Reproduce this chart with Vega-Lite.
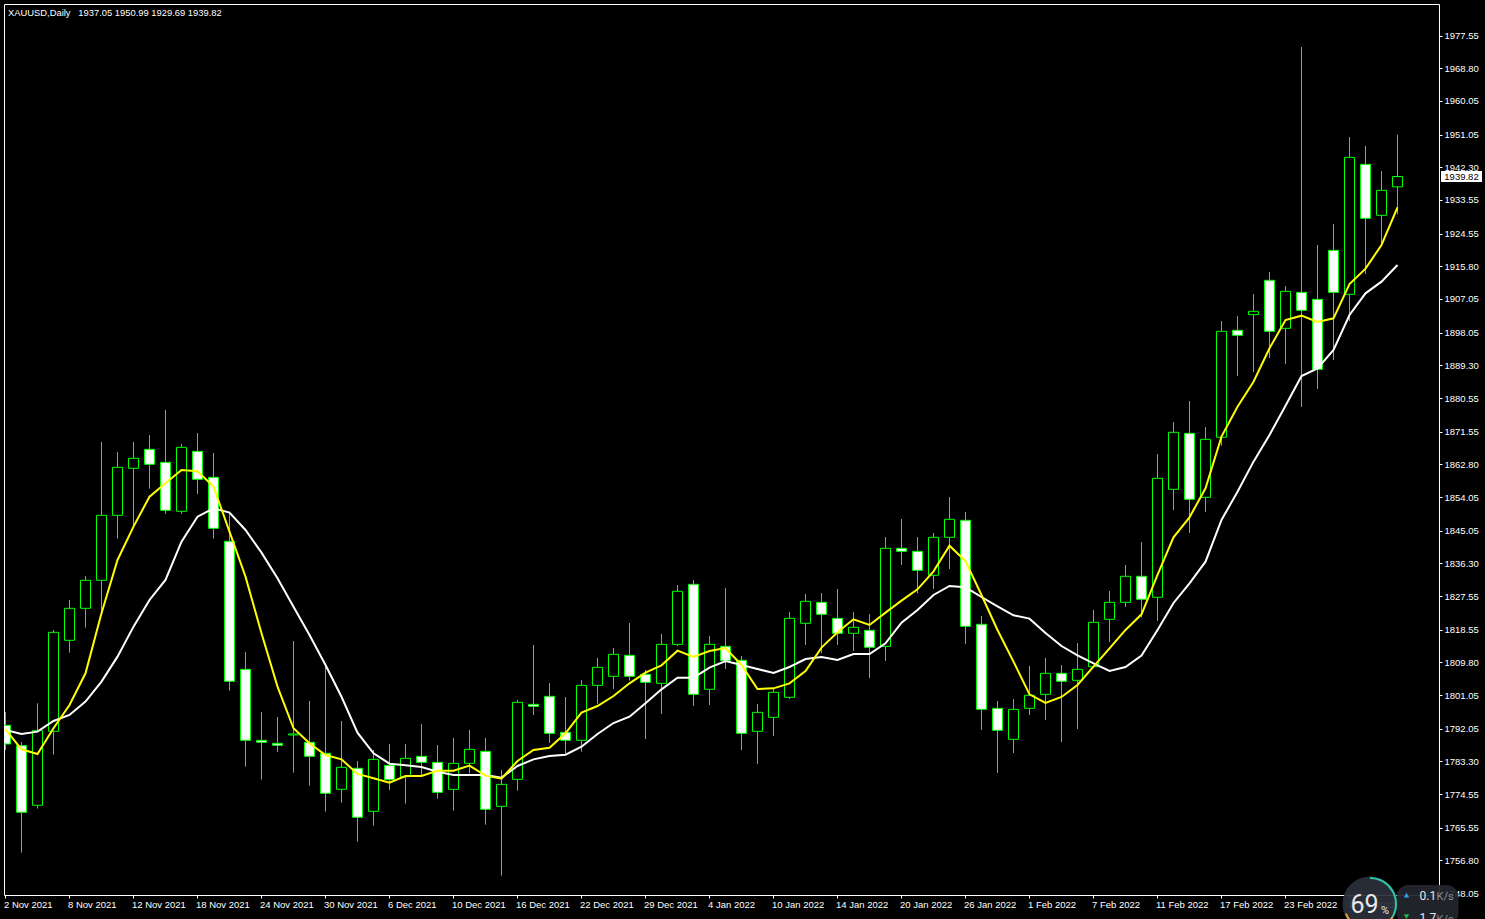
{
"$schema":"https://vega.github.io/schema/vega-lite/v6.json",
"autosize":{"type":"none"},
"padding":{"left":4,"top":4,"right":46,"bottom":24},
"width":1435,"height":891,
"background":"#000000",
"view":{"stroke":"#ffffff","strokeWidth":1,"fill":"#000000"},
"title":{"text":"XAUUSD,Daily\u00a0\u00a0\u00a01937.05 1950.99 1929.69 1939.82","anchor":"start","frame":"group","orient":"top","baseline":"middle","offset":-18.5,"dx":4,"font":"Liberation Sans","fontSize":9.4,"fontWeight":"normal","color":"#ffffff"},
"data":{"values":[
{"date":"2 Nov 2021","open":1792.97,"high":1796.54,"low":1786.37,"close":1787.97,"ma_fast":1791.90,"ma_slow":1791.72},
{"date":"3 Nov 2021","open":1787.53,"high":1788.51,"low":1758.90,"close":1769.69,"ma_fast":1786.55,"ma_slow":1790.65},
{"date":"4 Nov 2021","open":1771.56,"high":1798.85,"low":1770.67,"close":1791.54,"ma_fast":1785.30,"ma_slow":1791.27},
{"date":"5 Nov 2021","open":1791.36,"high":1818.48,"low":1785.12,"close":1817.85,"ma_fast":1792.17,"ma_slow":1794.13},
{"date":"8 Nov 2021","open":1815.71,"high":1826.50,"low":1812.41,"close":1824.27,"ma_fast":1798.41,"ma_slow":1795.73},
{"date":"9 Nov 2021","open":1824.27,"high":1832.93,"low":1819.10,"close":1831.77,"ma_fast":1806.88,"ma_slow":1799.30},
{"date":"10 Nov 2021","open":1831.77,"high":1868.78,"low":1822.94,"close":1849.16,"ma_fast":1822.94,"ma_slow":1804.65},
{"date":"11 Nov 2021","open":1849.16,"high":1866.11,"low":1842.92,"close":1862.00,"ma_fast":1837.21,"ma_slow":1811.34},
{"date":"12 Nov 2021","open":1861.74,"high":1868.78,"low":1846.13,"close":1864.41,"ma_fast":1846.13,"ma_slow":1819.37},
{"date":"15 Nov 2021","open":1866.82,"high":1870.65,"low":1856.29,"close":1862.81,"ma_fast":1854.15,"ma_slow":1826.50},
{"date":"16 Nov 2021","open":1863.34,"high":1877.34,"low":1849.52,"close":1850.50,"ma_fast":1857.72,"ma_slow":1831.86},
{"date":"17 Nov 2021","open":1850.23,"high":1868.25,"low":1849.52,"close":1867.35,"ma_fast":1861.29,"ma_slow":1842.11},
{"date":"18 Nov 2021","open":1866.28,"high":1871.19,"low":1854.87,"close":1858.79,"ma_fast":1860.93,"ma_slow":1848.80},
{"date":"19 Nov 2021","open":1859.33,"high":1865.84,"low":1842.92,"close":1845.68,"ma_fast":1856.83,"ma_slow":1851.03},
{"date":"22 Nov 2021","open":1842.20,"high":1849.69,"low":1802.24,"close":1804.74,"ma_fast":1844.79,"ma_slow":1849.87},
{"date":"23 Nov 2021","open":1807.95,"high":1812.59,"low":1781.91,"close":1788.95,"ma_fast":1832.75,"ma_slow":1845.23},
{"date":"24 Nov 2021","open":1788.95,"high":1796.54,"low":1778.43,"close":1788.42,"ma_fast":1817.58,"ma_slow":1839.17},
{"date":"25 Nov 2021","open":1788.15,"high":1795.20,"low":1785.83,"close":1787.62,"ma_fast":1803.31,"ma_slow":1832.30},
{"date":"26 Nov 2021","open":1790.38,"high":1815.53,"low":1780.30,"close":1790.65,"ma_fast":1792.17,"ma_slow":1824.72},
{"date":"29 Nov 2021","open":1788.42,"high":1799.48,"low":1776.82,"close":1784.67,"ma_fast":1788.15,"ma_slow":1817.14},
{"date":"30 Nov 2021","open":1785.48,"high":1808.67,"low":1769.87,"close":1774.77,"ma_fast":1785.03,"ma_slow":1809.11},
{"date":"1 Dec 2021","open":1775.84,"high":1794.13,"low":1772.27,"close":1781.73,"ma_fast":1783.87,"ma_slow":1800.60},
{"date":"2 Dec 2021","open":1781.46,"high":1783.42,"low":1761.84,"close":1768.35,"ma_fast":1779.95,"ma_slow":1791.00},
{"date":"3 Dec 2021","open":1769.95,"high":1786.36,"low":1766.11,"close":1783.86,"ma_fast":1778.78,"ma_slow":1785.47},
{"date":"6 Dec 2021","open":1782.26,"high":1787.97,"low":1775.66,"close":1778.42,"ma_fast":1777.62,"ma_slow":1782.70},
{"date":"7 Dec 2021","open":1779.22,"high":1787.97,"low":1772.00,"close":1784.13,"ma_fast":1779.40,"ma_slow":1782.26},
{"date":"8 Dec 2021","open":1784.67,"high":1793.32,"low":1779.22,"close":1783.06,"ma_fast":1779.40,"ma_slow":1781.81},
{"date":"9 Dec 2021","open":1783.06,"high":1787.70,"low":1773.34,"close":1775.03,"ma_fast":1780.83,"ma_slow":1780.56},
{"date":"10 Dec 2021","open":1775.83,"high":1789.57,"low":1770.13,"close":1782.79,"ma_fast":1780.83,"ma_slow":1779.67},
{"date":"13 Dec 2021","open":1782.79,"high":1791.71,"low":1780.12,"close":1786.54,"ma_fast":1782.17,"ma_slow":1779.67},
{"date":"14 Dec 2021","open":1786.00,"high":1789.57,"low":1766.38,"close":1770.48,"ma_fast":1779.49,"ma_slow":1779.67},
{"date":"15 Dec 2021","open":1771.29,"high":1781.01,"low":1752.73,"close":1777.17,"ma_fast":1778.69,"ma_slow":1778.96},
{"date":"16 Dec 2021","open":1778.51,"high":1799.74,"low":1775.48,"close":1799.11,"ma_fast":1783.42,"ma_slow":1782.08},
{"date":"17 Dec 2021","open":1798.58,"high":1814.46,"low":1795.72,"close":1798.04,"ma_fast":1786.36,"ma_slow":1783.86},
{"date":"20 Dec 2021","open":1800.72,"high":1804.29,"low":1788.23,"close":1790.82,"ma_fast":1786.98,"ma_slow":1784.75},
{"date":"21 Dec 2021","open":1791.09,"high":1800.54,"low":1785.47,"close":1788.95,"ma_fast":1790.82,"ma_slow":1785.11},
{"date":"22 Dec 2021","open":1788.95,"high":1805.09,"low":1785.91,"close":1803.66,"ma_fast":1796.35,"ma_slow":1787.25},
{"date":"23 Dec 2021","open":1803.66,"high":1810.98,"low":1798.67,"close":1808.48,"ma_fast":1798.13,"ma_slow":1790.64},
{"date":"24 Dec 2021","open":1806.07,"high":1813.65,"low":1802.68,"close":1811.96,"ma_fast":1800.81,"ma_slow":1793.58},
{"date":"28 Dec 2021","open":1811.69,"high":1820.34,"low":1804.91,"close":1806.07,"ma_fast":1804.20,"ma_slow":1795.28},
{"date":"29 Dec 2021","open":1806.61,"high":1807.77,"low":1789.30,"close":1804.47,"ma_fast":1807.05,"ma_slow":1798.85},
{"date":"30 Dec 2021","open":1804.20,"high":1817.40,"low":1795.99,"close":1814.63,"ma_fast":1809.01,"ma_slow":1802.59},
{"date":"31 Dec 2021","open":1814.63,"high":1830.51,"low":1814.19,"close":1828.82,"ma_fast":1812.94,"ma_slow":1805.71},
{"date":"3 Jan 2022","open":1830.69,"high":1831.85,"low":1798.13,"close":1801.25,"ma_fast":1811.24,"ma_slow":1805.71},
{"date":"4 Jan 2022","open":1802.60,"high":1816.87,"low":1798.40,"close":1814.64,"ma_fast":1812.85,"ma_slow":1808.39},
{"date":"5 Jan 2022","open":1814.10,"high":1829.71,"low":1808.04,"close":1810.27,"ma_fast":1813.66,"ma_slow":1810.18},
{"date":"6 Jan 2022","open":1810.36,"high":1811.52,"low":1786.36,"close":1790.82,"ma_fast":1809.11,"ma_slow":1809.11},
{"date":"7 Jan 2022","open":1791.36,"high":1798.67,"low":1782.62,"close":1796.44,"ma_fast":1802.69,"ma_slow":1808.04},
{"date":"10 Jan 2022","open":1795.10,"high":1802.86,"low":1790.11,"close":1801.79,"ma_fast":1802.86,"ma_slow":1806.97},
{"date":"11 Jan 2022","open":1800.46,"high":1823.29,"low":1800.01,"close":1821.59,"ma_fast":1804.20,"ma_slow":1808.57},
{"date":"12 Jan 2022","open":1820.26,"high":1828.11,"low":1814.46,"close":1826.14,"ma_fast":1807.50,"ma_slow":1810.71},
{"date":"13 Jan 2022","open":1825.88,"high":1828.37,"low":1812.23,"close":1822.66,"ma_fast":1813.75,"ma_slow":1811.25},
{"date":"14 Jan 2022","open":1821.59,"high":1829.44,"low":1814.46,"close":1817.58,"ma_fast":1817.85,"ma_slow":1810.45},
{"date":"17 Jan 2022","open":1817.58,"high":1823.29,"low":1812.85,"close":1819.19,"ma_fast":1821.33,"ma_slow":1812.05},
{"date":"18 Jan 2022","open":1818.38,"high":1822.75,"low":1805.63,"close":1813.84,"ma_fast":1819.81,"ma_slow":1812.05},
{"date":"19 Jan 2022","open":1814.10,"high":1843.36,"low":1810.18,"close":1840.33,"ma_fast":1823.11,"ma_slow":1814.91},
{"date":"20 Jan 2022","open":1840.33,"high":1848.17,"low":1835.87,"close":1839.52,"ma_fast":1826.32,"ma_slow":1820.44},
{"date":"21 Jan 2022","open":1839.52,"high":1843.36,"low":1828.28,"close":1834.44,"ma_fast":1829.35,"ma_slow":1823.82},
{"date":"24 Jan 2022","open":1833.10,"high":1844.43,"low":1829.44,"close":1843.27,"ma_fast":1834.17,"ma_slow":1827.84},
{"date":"25 Jan 2022","open":1843.27,"high":1854.06,"low":1834.80,"close":1848.09,"ma_fast":1841.04,"ma_slow":1830.25},
{"date":"26 Jan 2022","open":1847.82,"high":1850.05,"low":1814.73,"close":1819.45,"ma_fast":1836.94,"ma_slow":1829.89},
{"date":"27 Jan 2022","open":1819.99,"high":1822.22,"low":1791.72,"close":1797.24,"ma_fast":1827.84,"ma_slow":1827.30},
{"date":"28 Jan 2022","open":1797.51,"high":1799.47,"low":1780.21,"close":1791.63,"ma_fast":1818.47,"ma_slow":1824.81},
{"date":"31 Jan 2022","open":1789.22,"high":1800.01,"low":1785.56,"close":1797.24,"ma_fast":1810.00,"ma_slow":1822.40},
{"date":"1 Feb 2022","open":1797.51,"high":1808.84,"low":1795.73,"close":1800.99,"ma_fast":1801.26,"ma_slow":1821.51},
{"date":"2 Feb 2022","open":1801.26,"high":1810.98,"low":1794.39,"close":1806.88,"ma_fast":1798.94,"ma_slow":1817.67},
{"date":"3 Feb 2022","open":1806.88,"high":1809.11,"low":1788.50,"close":1804.74,"ma_fast":1800.55,"ma_slow":1814.19},
{"date":"4 Feb 2022","open":1805.00,"high":1814.99,"low":1791.98,"close":1807.95,"ma_fast":1803.76,"ma_slow":1811.69},
{"date":"7 Feb 2022","open":1808.66,"high":1823.83,"low":1808.48,"close":1820.53,"ma_fast":1808.66,"ma_slow":1809.56},
{"date":"8 Feb 2022","open":1821.33,"high":1828.91,"low":1815.26,"close":1825.88,"ma_fast":1813.57,"ma_slow":1807.50},
{"date":"9 Feb 2022","open":1825.88,"high":1835.87,"low":1824.63,"close":1832.84,"ma_fast":1818.48,"ma_slow":1808.58},
{"date":"10 Feb 2022","open":1832.84,"high":1842.02,"low":1821.86,"close":1826.68,"ma_fast":1822.67,"ma_slow":1811.61},
{"date":"11 Feb 2022","open":1827.22,"high":1865.57,"low":1820.88,"close":1859.06,"ma_fast":1833.19,"ma_slow":1818.48},
{"date":"14 Feb 2022","open":1856.11,"high":1874.13,"low":1850.58,"close":1871.37,"ma_fast":1843.27,"ma_slow":1825.70},
{"date":"15 Feb 2022","open":1871.10,"high":1879.75,"low":1844.43,"close":1853.44,"ma_fast":1848.62,"ma_slow":1830.96},
{"date":"16 Feb 2022","open":1853.97,"high":1872.79,"low":1850.05,"close":1869.49,"ma_fast":1856.38,"ma_slow":1836.76},
{"date":"17 Feb 2022","open":1870.04,"high":1901.16,"low":1867.79,"close":1898.40,"ma_fast":1870.21,"ma_slow":1847.91},
{"date":"18 Feb 2022","open":1898.67,"high":1902.49,"low":1886.44,"close":1897.33,"ma_fast":1878.23,"ma_slow":1855.49},
{"date":"21 Feb 2022","open":1902.85,"high":1908.38,"low":1887.51,"close":1903.74,"ma_fast":1884.92,"ma_slow":1863.52},
{"date":"22 Feb 2022","open":1912.04,"high":1914.27,"low":1891.25,"close":1898.39,"ma_fast":1893.84,"ma_slow":1870.65},
{"date":"23 Feb 2022","open":1899.19,"high":1910.52,"low":1889.65,"close":1909.09,"ma_fast":1901.42,"ma_slow":1878.50},
{"date":"24 Feb 2022","open":1908.82,"high":1974.47,"low":1878.14,"close":1904.01,"ma_fast":1902.58,"ma_slow":1886.44},
{"date":"25 Feb 2022","open":1906.95,"high":1921.49,"low":1882.96,"close":1888.22,"ma_fast":1900.89,"ma_slow":1888.49},
{"date":"28 Feb 2022","open":1920.06,"high":1927.11,"low":1890.72,"close":1908.82,"ma_fast":1901.87,"ma_slow":1893.39},
{"date":"1 Mar 2022","open":1908.29,"high":1950.39,"low":1901.15,"close":1944.95,"ma_fast":1911.05,"ma_slow":1902.76},
{"date":"2 Mar 2022","open":1943.07,"high":1947.98,"low":1913.73,"close":1928.63,"ma_fast":1915.16,"ma_slow":1908.56},
{"date":"3 Mar 2022","open":1929.43,"high":1941.29,"low":1921.94,"close":1936.12,"ma_fast":1921.49,"ma_slow":1911.68},
{"date":"4 Mar 2022","open":1937.05,"high":1950.99,"low":1929.69,"close":1939.82,"ma_fast":1931.57,"ma_slow":1916.14}
]},
"encoding":{
"x":{"field":"date","type":"ordinal","sort":null,"title":null,
"scale":{"type":"band","range":[-6.5,1401.5],"paddingInner":0,"paddingOuter":0},
"axis":{"orient":"bottom","title":null,"domain":false,"grid":false,"ticks":true,"tickSize":3,"tickColor":"#ffffff","labelColor":"#ffffff","labelAngle":0,"labelAlign":"left","labelBaseline":"middle","labelFont":"Liberation Sans","labelFontSize":9.5,"labelPadding":6,"labelOffset":-1.5,"labelOverlap":false,"labelBound":false,"labelFlush":false,
"values":["2 Nov 2021","8 Nov 2021","12 Nov 2021","18 Nov 2021","24 Nov 2021","30 Nov 2021","6 Dec 2021","10 Dec 2021","16 Dec 2021","22 Dec 2021","29 Dec 2021","4 Jan 2022","10 Jan 2022","14 Jan 2022","20 Jan 2022","26 Jan 2022","1 Feb 2022","7 Feb 2022","11 Feb 2022","17 Feb 2022","23 Feb 2022","1 Mar 2022"]}}
},
"layer":[
{"mark":{"type":"rule","color":"#00ff00","strokeWidth":1,"clip":true},
 "encoding":{"y":{"field":"low","type":"quantitative","title":null,
   "scale":{"domain":[1747.56,1985.98],"nice":false,"zero":false},
   "axis":{"orient":"right","title":null,"domain":false,"grid":false,"tickSize":3,"tickCount":40,"tickColor":"#ffffff","labelColor":"#ffffff","labelFont":"Liberation Sans","labelFontSize":9.5,"labelPadding":2,"labelOverlap":false,"labelBound":false,"labelFlush":false,"format":".2f",
   "values":[1977.55,1968.80,1960.05,1951.05,1942.30,1933.55,1924.55,1915.80,1907.05,1898.05,1889.30,1880.55,1871.55,1862.80,1854.05,1845.05,1836.30,1827.55,1818.55,1809.80,1801.05,1792.05,1783.30,1774.55,1765.55,1756.80,1748.05]}},
  "y2":{"field":"high"}}},
{"mark":{"type":"bar","width":10,"stroke":"#00ff00","strokeWidth":1,"clip":true},
 "encoding":{"y":{"field":"open","type":"quantitative"},"y2":{"field":"close"},
  "fill":{"condition":{"test":"datum.close >= datum.open","value":"#000000"},"value":"#ffffff"}}},
{"mark":{"type":"line","color":"#ffffff","strokeWidth":2,"clip":true,"interpolate":"linear"},
 "encoding":{"y":{"field":"ma_slow","type":"quantitative"}}},
{"mark":{"type":"line","color":"#ffff00","strokeWidth":2,"clip":true,"interpolate":"linear"},
 "encoding":{"y":{"field":"ma_fast","type":"quantitative"}}},
{"transform":[{"filter":"datum.date === '4 Mar 2022'"}],
 "mark":{"type":"rect","width":41,"xOffset":64,"color":"#ffffff"},
 "encoding":{"y":{"datum":1941.3,"type":"quantitative"},"y2":{"datum":1938.35}}},
{"transform":[{"filter":"datum.date === '4 Mar 2022'"}],
 "mark":{"type":"text","xOffset":64,"color":"#000000","font":"Liberation Sans","fontSize":9.5,"align":"center","baseline":"middle"},
 "encoding":{"y":{"field":"close","type":"quantitative"},"text":{"field":"close","type":"quantitative","format":".2f"}}},
{"transform":[{"filter":"datum.date === '4 Mar 2022'"}],
 "mark":{"type":"rect","width":62,"xOffset":30,"color":"#23262e","opacity":0.93,"cornerRadius":12},
 "encoding":{"y":{"datum":1750.24,"type":"quantitative"},"y2":{"datum":1739.54}}},
{"transform":[{"filter":"datum.date === '1 Mar 2022'"}],
 "mark":{"type":"point","shape":"circle","filled":true,"size":3025,"xOffset":20.5,"color":"#2b2f3a","opacity":0.93},
 "encoding":{"y":{"datum":1745.16,"type":"quantitative"}}},
{"transform":[{"filter":"datum.date === '1 Mar 2022'"}],
 "mark":{"type":"arc","radius":27,"radius2":25,"theta":0,"theta2":2.1,"xOffset":20.5,"color":"#2ec4a6"},
 "encoding":{"y":{"datum":1745.16,"type":"quantitative"}}},
{"transform":[{"filter":"datum.date === '1 Mar 2022'"}],
 "mark":{"type":"arc","radius":27,"radius2":25,"theta":2.1,"theta2":4.33,"xOffset":20.5,"color":"#e8a33d"},
 "encoding":{"y":{"datum":1745.16,"type":"quantitative"}}},
{"transform":[{"filter":"datum.date === '1 Mar 2022'"}],
 "mark":{"type":"text","text":"69","xOffset":15,"color":"#e8e8e8","font":"Roboto","fontSize":25,"align":"center","baseline":"middle"},
 "encoding":{"y":{"datum":1744.9,"type":"quantitative"}}},
{"transform":[{"filter":"datum.date === '1 Mar 2022'"}],
 "mark":{"type":"text","text":"%","xOffset":35.5,"color":"#e8e8e8","font":"Roboto","fontSize":11,"align":"center","baseline":"middle"},
 "encoding":{"y":{"datum":1743.4,"type":"quantitative"}}},
{"transform":[{"filter":"datum.date === '4 Mar 2022'"}],
 "mark":{"type":"text","text":"0.1","xOffset":22,"color":"#e8e8e8","font":"Roboto","fontSize":12,"align":"left","baseline":"middle"},
 "encoding":{"y":{"datum":1747.3,"type":"quantitative"}}},
{"transform":[{"filter":"datum.date === '4 Mar 2022'"}],
 "mark":{"type":"text","text":"K/s","xOffset":39,"color":"#8a8d94","font":"Roboto","fontSize":11,"align":"left","baseline":"middle"},
 "encoding":{"y":{"datum":1746.9,"type":"quantitative"}}},
{"transform":[{"filter":"datum.date === '4 Mar 2022'"}],
 "mark":{"type":"text","text":"1.7","xOffset":22,"color":"#e8e8e8","font":"Roboto","fontSize":12,"align":"left","baseline":"middle"},
 "encoding":{"y":{"datum":1741.4,"type":"quantitative"}}},
{"transform":[{"filter":"datum.date === '4 Mar 2022'"}],
 "mark":{"type":"text","text":"K/s","xOffset":39,"color":"#8a8d94","font":"Roboto","fontSize":11,"align":"left","baseline":"middle"},
 "encoding":{"y":{"datum":1741.0,"type":"quantitative"}}},
{"transform":[{"filter":"datum.date === '4 Mar 2022'"}],
 "mark":{"type":"point","shape":"triangle-up","filled":true,"size":30,"xOffset":9,"color":"#2f9fe8","opacity":1},
 "encoding":{"y":{"datum":1747.5,"type":"quantitative"}}},
{"transform":[{"filter":"datum.date === '4 Mar 2022'"}],
 "mark":{"type":"point","shape":"triangle-down","filled":true,"size":30,"xOffset":9,"color":"#27b04a","opacity":1},
 "encoding":{"y":{"datum":1741.8,"type":"quantitative"}}}
],
"config":{"axis":{"labelLimit":0,"labelOverlap":false}}
}
